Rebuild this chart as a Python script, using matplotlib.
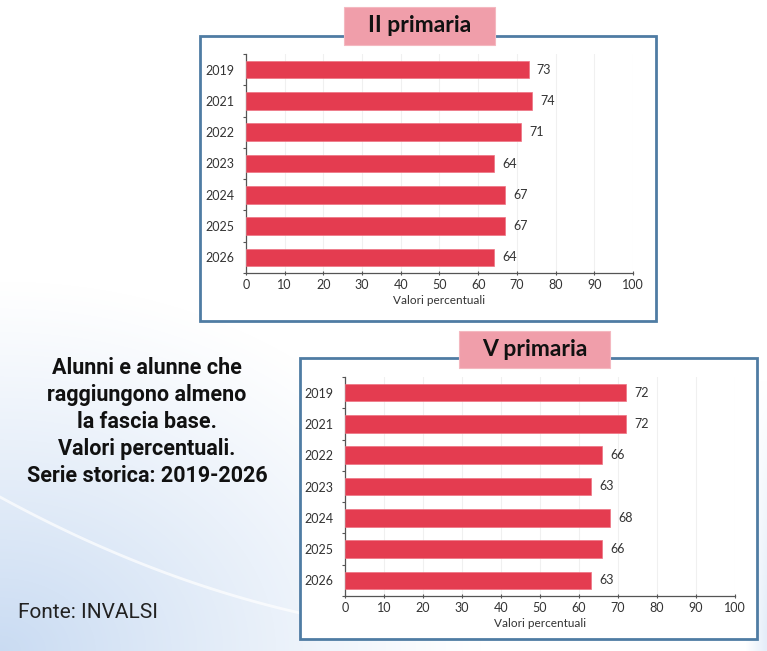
import numpy as np
import matplotlib
matplotlib.use("Agg")
import matplotlib.pyplot as plt
from matplotlib.patches import Rectangle

# data
years = ['2019', '2021', '2022', '2023', '2024', '2025', '2026']
seconda = [73, 74, 71, 64, 67, 67, 64]
quinta = [72, 72, 66, 63, 68, 66, 63]
xticks = [0, 10, 20, 30, 40, 50, 60, 70, 80, 90, 100]

W, H = 767, 651
BAR = '#e43c50'
BOX_EDGE = '#4f7ca3'
PINK = '#f09eaa'
TXT = '#333333'

plt.rcParams['font.family'] = ['Lato', 'DejaVu Sans']

fig = plt.figure(figsize=(W / 100, H / 100), dpi=100)


def fx(x):
    return x / W


def fy(y):
    return 1 - y / H


# background: white with a light blue wash toward bottom-left
bg = fig.add_axes([0, 0, 1, 1], zorder=-5)
xx, yy = np.meshgrid(np.arange(W), np.arange(H))
d = np.sqrt((xx / 1.3) ** 2 + (H - yy) ** 2)
t = np.clip(1 - d / 370, 0, 1) ** 1.1
t2 = np.clip((xx - 745) / 25, 0, 1) * np.clip((yy - 380) / 250, 0, 1) * 0.6
t = np.maximum(t, t2)
c0 = np.array([1.0, 1.0, 1.0])
c1 = np.array([0.79, 0.86, 0.95])
img = c0 + (c1 - c0) * t[..., None]
bg.imshow(img, aspect='auto', extent=[0, W, H, 0])
# faint white curved streak
k = np.polyfit([0, 150, 300], [497, 567, 613], 2)
ax_arc = np.linspace(0, 420, 100)
bg.plot(ax_arc, np.polyval(k, ax_arc), color='white', lw=2, alpha=0.7)
bg.set_xlim(0, W)
bg.set_ylim(H, 0)
bg.axis('off')


def panel(box, title_box, ax_rect, values, title):
    x0, y0, x1, y1 = box
    fig.patches.append(Rectangle((fx(x0), fy(y1)), fx(x1 - x0), (y1 - y0) / H,
                                 transform=fig.transFigure, facecolor='white',
                                 edgecolor=BOX_EDGE, lw=2, zorder=1))
    tx0, ty0, tx1, ty1 = title_box
    fig.patches.append(Rectangle((fx(tx0), fy(ty1)), fx(tx1 - tx0), (ty1 - ty0) / H,
                                 transform=fig.transFigure, facecolor=PINK,
                                 edgecolor='#f4b8c0', lw=0.8, zorder=3))
    fig.text(fx((tx0 + tx1) / 2), fy((ty0 + ty1) / 2), title, ha='center', va='center',
             fontsize=16.5, fontweight='bold', color='#111111', zorder=4,
             family=['Lato', 'DejaVu Sans'])

    ax0, ay0, ax1, ay1 = ax_rect
    ax = fig.add_axes([fx(ax0), fy(ay1), fx(ax1 - ax0), (ay1 - ay0) / H], zorder=2)
    ax.patch.set_alpha(0)
    pos = np.arange(len(years))
    ax.barh(pos, values, height=0.56, color=BAR, edgecolor='#ee7382', lw=0.5, zorder=3)
    for p, v in zip(pos, values):
        ax.annotate(str(v), (v, p), xytext=(6, 0), textcoords='offset points',
                    va='center', ha='left', fontsize=9, color=TXT)
    ax.set_xlim(0, 100)
    ax.set_ylim(6.5, -0.5)
    ax.set_yticks(pos)
    ax.set_yticklabels(years)
    ax.set_yticks(np.arange(-0.5, 7, 1), minor=True)
    ax.set_xticks(xticks)
    ax.tick_params(axis='y', which='major', length=0, pad=8, labelsize=9, labelcolor=TXT)
    ax.tick_params(axis='y', which='minor', length=2.5, width=0.8, color='#555555')
    ax.tick_params(axis='x', length=3, width=0.8, direction='inout', color='#555555',
                   labelsize=9, labelcolor=TXT, pad=3)
    ax.grid(axis='x', color='#f0f0f0', lw=0.8, zorder=0)
    for s in ['top', 'right']:
        ax.spines[s].set_visible(False)
    for s in ['left', 'bottom']:
        ax.spines[s].set_color('#555555')
        ax.spines[s].set_linewidth(0.9)
    ax.set_xlabel('Valori percentuali', fontsize=8.5, color=TXT, labelpad=3)
    return ax


panel((200, 36, 656, 321), (344, 7, 495, 45), (246, 54, 633, 273), seconda, 'II primaria')
panel((300, 358, 757, 639), (459, 331, 610, 368), (345, 377, 735, 596), quinta, 'V primaria')

desc = ['Alunni e alunne che', 'raggiungono almeno', 'la fascia base.',
        'Valori percentuali.', 'Serie storica: 2019-2026']
for i, line in enumerate(desc):
    fig.text(fx(147), fy(368 + i * 27), line, ha='center', va='center', fontsize=15.5,
             fontweight='bold', color='#111111', family=['Roboto', 'DejaVu Sans'])

fig.text(fx(18), fy(613), 'Fonte: INVALSI', ha='left', va='center', fontsize=15,
         color='#222222', family=['Roboto', 'DejaVu Sans'])

fig.savefig('out.png', dpi=100)
